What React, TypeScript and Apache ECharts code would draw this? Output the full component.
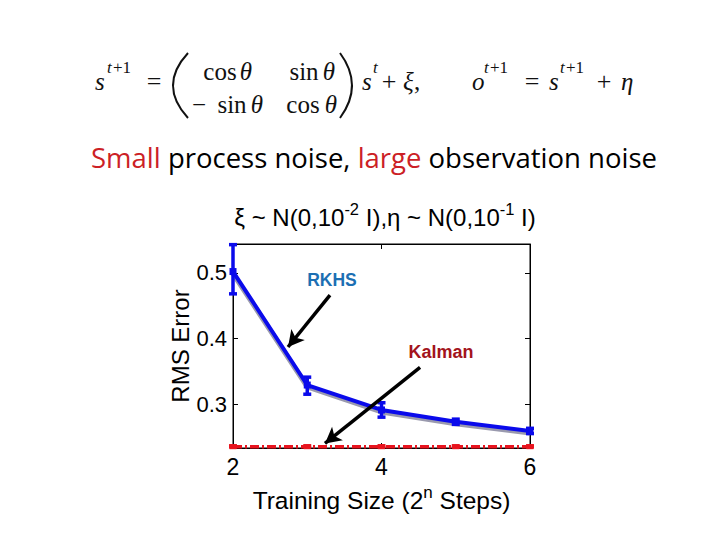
import React, { useEffect, useRef } from "react";
import * as echarts from "echarts";

const X_STEPS = [2, 3, 4, 5, 6];
const RKHS_MEAN = [0.502, 0.329, 0.291, 0.273, 0.259];
const RKHS_LOW = [0.468, 0.315, 0.280, 0.269, 0.255];
const RKHS_HIGH = [0.543, 0.341, 0.302, 0.277, 0.263];
const RKHS_SHADOW = [0.499, 0.326, 0.288, 0.270, 0.256];
const KALMAN_MEAN = [0.235, 0.235, 0.235, 0.235, 0.235];
const KALMAN_LOW = [0.234, 0.234, 0.234, 0.234, 0.234];
const KALMAN_HIGH = [0.237, 0.237, 0.237, 0.237, 0.237];
const Y_TICKS = [0.3, 0.4, 0.5];
// annotation arrows (data coords): [start, end]
const ARROW_RKHS = [[3.306, 0.466], [2.741, 0.387]];
const ARROW_KALMAN = [[4.519, 0.356], [3.239, 0.240]];

const SANS = "'Liberation Sans', Arial, sans-serif";
const SERIF = "'Liberation Serif', 'Times New Roman', serif";
const TITLE_FONT = "'Open Sans', 'Noto Sans', sans-serif";

type Piece = [number, number, string, boolean, number, string?];
// [x, y, text, italic, fontSize, align]
const EQ_PIECES: Piece[] = [
  [95, 81, "s", true, 25, "left"],
  [107, 67, "t", true, 17, "left"],
  [113, 67, "+1", false, 17, "left"],
  [154, 81, "=", false, 26, "center"],
  [220, 71, "cos", false, 25, "center"],
  [246, 71, "θ", true, 25, "center"],
  [304, 71, "sin", false, 25, "center"],
  [329, 71, "θ", true, 25, "center"],
  [199, 104, "−", false, 25, "center"],
  [232, 104, "sin", false, 25, "center"],
  [257, 104, "θ", true, 25, "center"],
  [303, 104, "cos", false, 25, "center"],
  [331, 104, "θ", true, 25, "center"],
  [362, 81, "s", true, 25, "left"],
  [373, 67, "t", true, 17, "left"],
  [389, 81, "+", false, 26, "center"],
  [403, 81, "ξ", true, 25, "left"],
  [414, 81, ",", false, 25, "left"],
  [472, 81, "o", true, 25, "left"],
  [484, 67, "t", true, 17, "left"],
  [490, 67, "+1", false, 17, "left"],
  [532, 81, "=", false, 26, "center"],
  [549, 81, "s", true, 25, "left"],
  [560, 67, "t", true, 17, "left"],
  [566, 67, "+1", false, 17, "left"],
  [604, 81, "+", false, 26, "center"],
  [621, 81, "η", true, 25, "left"],
];

export default function App() {
  const ref = useRef<HTMLDivElement>(null);
  useEffect(() => {
    const chart = echarts.init(ref.current!, null, { renderer: "svg" });

    const errData = (low: number[], high: number[]) =>
      X_STEPS.map((x, i) => [x, low[i], high[i]]);

    const errRender = (color: string, cap: number, w: number) => (params: any, api: any) => {
      const x = api.value(0);
      const lo = api.coord([x, api.value(1)]);
      const hi = api.coord([x, api.value(2)]);
      const st = { stroke: color, lineWidth: w };
      return {
        type: "group",
        children: [
          { type: "line", shape: { x1: lo[0], y1: lo[1], x2: hi[0], y2: hi[1] }, style: st },
          { type: "line", shape: { x1: lo[0] - cap, y1: lo[1], x2: lo[0] + cap, y2: lo[1] }, style: st },
          { type: "line", shape: { x1: hi[0] - cap, y1: hi[1], x2: hi[0] + cap, y2: hi[1] }, style: st },
        ],
      };
    };

    const eqGraphics = EQ_PIECES.map(([x, y, text, italic, size, align]) => ({
      type: "text",
      x,
      y,
      style: {
        text,
        fill: "#111",
        fontFamily: SERIF,
        fontStyle: italic ? "italic" : "normal",
        fontSize: size,
        align: align || "left",
        verticalAlign: "middle",
      },
    }));

    const option: any = {
      animation: false,
      backgroundColor: "#fff",
      grid: {
        left: 233,
        right: 190,
        top: 244,
        bottom: 92,
        show: true,
        borderColor: "#000",
        borderWidth: 1,
        backgroundColor: "transparent",
      },
      xAxis: [
        {
          type: "value",
          min: 2,
          max: 6,
          interval: 2,
          axisLine: { show: true, lineStyle: { color: "#000", width: 1 } },
          axisTick: { show: true, inside: true, length: 5, lineStyle: { color: "#000" } },
          axisLabel: { color: "#000", fontSize: 23, fontFamily: SANS, margin: 7 },
          splitLine: { show: false },
          name: "Training Size (2{s|n} Steps)",
          nameLocation: "middle",
          nameGap: 36,
          nameTextStyle: {
            color: "#000",
            fontSize: 24.5,
            fontFamily: SANS,
            rich: {
              s: { fontSize: 17, fontFamily: SANS, color: "#000", padding: [0, 0, 16, 0] },
            },
          },
        },
        {
          type: "value",
          position: "top",
          min: 2,
          max: 6,
          interval: 2,
          axisLine: { show: true, lineStyle: { color: "#000" } },
          axisTick: { show: true, inside: true, length: 5, lineStyle: { color: "#000" } },
          axisLabel: { show: false },
          splitLine: { show: false },
        },
      ],
      yAxis: [
        {
          type: "value",
          min: 0.233,
          max: 0.544,
          axisLine: { show: true, lineStyle: { color: "#000" } },
          axisTick: { show: true, inside: true, length: 5, customValues: Y_TICKS, lineStyle: { color: "#000" } },
          axisLabel: {
            color: "#000",
            fontSize: 22,
            fontFamily: SANS,
            margin: 6,
            customValues: Y_TICKS,
            formatter: (v: number) => v.toFixed(1),
          },
          splitLine: { show: false },
          name: "RMS Error",
          nameLocation: "middle",
          nameGap: 38,
          nameRotate: 90,
          nameTextStyle: { color: "#000", fontSize: 24, fontFamily: SANS },
        },
        {
          type: "value",
          position: "right",
          min: 0.233,
          max: 0.544,
          axisLine: { show: true, lineStyle: { color: "#000" } },
          axisTick: { show: true, inside: true, length: 5, customValues: Y_TICKS, lineStyle: { color: "#000" } },
          axisLabel: { show: false, customValues: Y_TICKS },
          splitLine: { show: false },
        },
      ],
      series: [
        {
          name: "rkhs-shadow",
          type: "line",
          data: X_STEPS.map((x, i) => [x, RKHS_SHADOW[i]]),
          symbol: "none",
          lineStyle: { color: "#9a9aae", width: 5 },
          z: 1,
          silent: true,
        },
        {
          name: "Kalman",
          type: "line",
          data: X_STEPS.map((x, i) => [x, KALMAN_MEAN[i]]),
          symbol: "rect",
          symbolSize: [7, 5],
          itemStyle: { color: "#e8141e" },
          lineStyle: { color: "#e8141e", width: 3.5, type: [9, 3, 2, 3] },
          z: 3,
          markLine: {
            silent: true,
            symbol: ["none", "arrow"],
            symbolSize: [13, 16],
            label: { show: false },
            lineStyle: { color: "#000", width: 3.5, type: "solid" },
            data: [
              [{ coord: ARROW_RKHS[0] }, { coord: ARROW_RKHS[1] }],
              [{ coord: ARROW_KALMAN[0] }, { coord: ARROW_KALMAN[1] }],
            ],
          },
        },
        {
          name: "kalman-err",
          type: "custom",
          data: errData(KALMAN_LOW, KALMAN_HIGH),
          renderItem: errRender("#e8141e", 4, 2.5),
          z: 3,
          silent: true,
        },
        {
          name: "RKHS",
          type: "line",
          data: X_STEPS.map((x, i) => [x, RKHS_MEAN[i]]),
          symbol: "rect",
          symbolSize: 7,
          itemStyle: { color: "#0a0aeb" },
          lineStyle: { color: "#0a0aeb", width: 4 },
          z: 4,
        },
        {
          name: "rkhs-err",
          type: "custom",
          data: errData(RKHS_LOW, RKHS_HIGH),
          renderItem: errRender("#0a0aeb", 4, 3.5),
          z: 4,
          silent: true,
        },
      ],
      graphic: [
        // chart title
        {
          type: "text",
          x: 385,
          y: 217,
          style: {
            text: "{t|ξ ~ N(0,10}{s|-2}{t| I),η ~ N(0,10}{s|-1}{t| I)}",
            align: "center",
            verticalAlign: "middle",
            rich: {
              t: { fontSize: 24, fontFamily: SANS, fill: "#000" },
              s: { fontSize: 16.5, fontFamily: SANS, fill: "#000", padding: [0, 0, 16, 0] },
            },
          },
        },
        // slide subtitle
        {
          type: "text",
          x: 374,
          y: 157,
          style: {
            text: "{r|Small}{k| process noise, }{r|large}{k| observation noise}",
            align: "center",
            verticalAlign: "middle",
            rich: {
              r: { fontSize: 27.5, fontFamily: TITLE_FONT, fill: "#cc1f26" },
              k: { fontSize: 27.5, fontFamily: TITLE_FONT, fill: "#000" },
            },
          },
        },
        // annotation labels
        {
          type: "text",
          x: 332,
          y: 280,
          style: {
            text: "RKHS",
            align: "center",
            verticalAlign: "middle",
            fontSize: 17.5,
            fontWeight: "bold",
            fontFamily: SANS,
            fill: "#1c6fb3",
          },
        },
        {
          type: "text",
          x: 441,
          y: 352,
          style: {
            text: "Kalman",
            align: "center",
            verticalAlign: "middle",
            fontSize: 18,
            fontWeight: "bold",
            fontFamily: SANS,
            fill: "#a3141c",
          },
        },
        // equation parentheses
        {
          type: "bezierCurve",
          shape: { x1: 188, y1: 53, x2: 188, y2: 118, cpx1: 158, cpy1: 85.5 },
          style: { stroke: "#111", lineWidth: 2, fill: "none" },
        },
        {
          type: "bezierCurve",
          shape: { x1: 340, y1: 53, x2: 340, y2: 118, cpx1: 364, cpy1: 85.5 },
          style: { stroke: "#111", lineWidth: 2, fill: "none" },
        },
        ...eqGraphics,
      ],
    };
    chart.setOption(option);
    return () => chart.dispose();
  }, []);
  return (
    <div
      ref={ref}
      style={{ position: "fixed", left: 0, top: 0, width: 720, height: 540, background: "#fff" }}
    />
  );
}
